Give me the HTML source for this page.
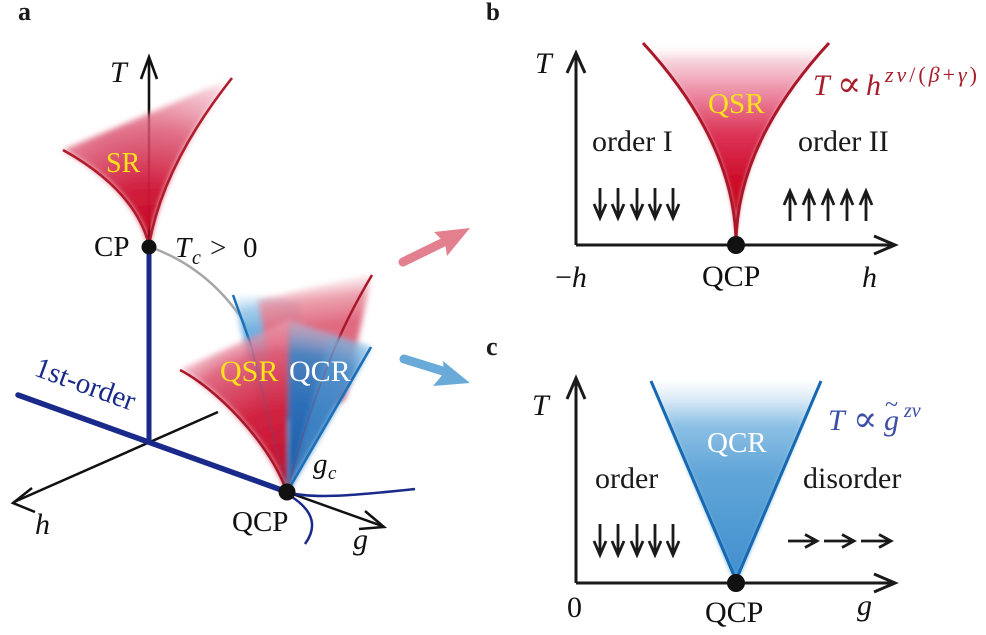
<!DOCTYPE html>
<html><head><meta charset="utf-8">
<style>
html,body{margin:0;padding:0;background:#fff;}
svg{display:block;}
text{font-family:"Liberation Serif","DejaVu Serif",serif;}
</style></head>
<body>
<svg width="986" height="635" viewBox="0 0 986 635" xmlns="http://www.w3.org/2000/svg">
<defs>
  <filter id="b2" x="-30%" y="-30%" width="160%" height="160%"><feGaussianBlur stdDeviation="2"/></filter>
  <filter id="b3" x="-30%" y="-30%" width="160%" height="160%"><feGaussianBlur stdDeviation="3"/></filter>
  <filter id="b5" x="-30%" y="-30%" width="160%" height="160%"><feGaussianBlur stdDeviation="5"/></filter>

  <radialGradient id="gSR" gradientUnits="userSpaceOnUse" cx="149" cy="245" r="195">
    <stop offset="0" stop-color="#c2001c"/>
    <stop offset="0.3" stop-color="#cf1a3a" stop-opacity="0.97"/>
    <stop offset="0.6" stop-color="#dc5a76" stop-opacity="0.85"/>
    <stop offset="0.85" stop-color="#eea4b6" stop-opacity="0.55"/>
    <stop offset="1" stop-color="#ffffff" stop-opacity="0"/>
  </radialGradient>

  <radialGradient id="gFR" gradientUnits="userSpaceOnUse" cx="287" cy="492" r="185">
    <stop offset="0" stop-color="#c40a28"/>
    <stop offset="0.45" stop-color="#d02442"/>
    <stop offset="0.75" stop-color="#dc5a76" stop-opacity="0.9"/>
    <stop offset="0.9" stop-color="#eeaabb" stop-opacity="0.55"/>
    <stop offset="1" stop-color="#ffffff" stop-opacity="0"/>
  </radialGradient>
  <radialGradient id="gFB" gradientUnits="userSpaceOnUse" cx="287" cy="492" r="185">
    <stop offset="0" stop-color="#1d58a4"/>
    <stop offset="0.45" stop-color="#2a6cb6"/>
    <stop offset="0.75" stop-color="#3f84c4" stop-opacity="0.92"/>
    <stop offset="0.9" stop-color="#a4c8e8" stop-opacity="0.55"/>
    <stop offset="1" stop-color="#ffffff" stop-opacity="0"/>
  </radialGradient>
  <linearGradient id="gBB" gradientUnits="userSpaceOnUse" x1="262" y1="290" x2="268" y2="330">
    <stop offset="0" stop-color="#a8d0ee" stop-opacity="0"/>
    <stop offset="0.45" stop-color="#8cc0e6" stop-opacity="0.8"/>
    <stop offset="1" stop-color="#6eaee0" stop-opacity="1"/>
  </linearGradient>
  <linearGradient id="gBP" gradientUnits="userSpaceOnUse" x1="318" y1="278" x2="324" y2="325">
    <stop offset="0" stop-color="#f2b8c4" stop-opacity="0.1"/>
    <stop offset="0.45" stop-color="#e8909f" stop-opacity="0.85"/>
    <stop offset="1" stop-color="#e06a80" stop-opacity="1"/>
  </linearGradient>

  <linearGradient id="gQSR" gradientUnits="userSpaceOnUse" x1="0" y1="43" x2="0" y2="245">
    <stop offset="0" stop-color="#ffffff" stop-opacity="0"/>
    <stop offset="0.08" stop-color="#f8d8e0"/>
    <stop offset="0.25" stop-color="#ec8aa2"/>
    <stop offset="0.45" stop-color="#dc3456"/>
    <stop offset="0.7" stop-color="#cc0a26"/>
    <stop offset="1" stop-color="#c4001e"/>
  </linearGradient>
  <linearGradient id="gQCR" gradientUnits="userSpaceOnUse" x1="0" y1="381" x2="0" y2="583">
    <stop offset="0" stop-color="#ffffff"/>
    <stop offset="0.1" stop-color="#d6e8f6"/>
    <stop offset="0.22" stop-color="#8cc0e4"/>
    <stop offset="0.45" stop-color="#62a6d8"/>
    <stop offset="1" stop-color="#3e8ece"/>
  </linearGradient>
</defs>

<!-- ================= PANEL A ================= -->
<text x="18" y="20" font-size="26" font-weight="bold" fill="#1a1a1a">a</text>

<!-- T axis -->
<path d="M149,245 L149,60" stroke="#111" stroke-width="2.6" fill="none"/>
<path d="M141,79 L149,57 L157,79" stroke="#111" stroke-width="2.6" fill="none"/>
<text x="110" y="82" font-size="30" font-style="italic" fill="#111">T</text>

<!-- SR fill -->
<path d="M149,245 Q135,190 63,150 L232,78 Q163,165 149,245 Z" fill="url(#gSR)" filter="url(#b3)"/>
<path d="M63,150 Q135,190 149,245" stroke="#b01c2c" stroke-width="2.6" fill="none"/>
<path d="M149,245 Q163,165 232,78" stroke="#b01c2c" stroke-width="2.6" fill="none"/>
<text x="106" y="172" font-size="28" fill="#ffe21a">SR</text>

<!-- grey curve -->
<path d="M150,247 Q215,270 252,335" stroke="#a6a6a6" stroke-width="2.5" fill="none"/>

<!-- back fans -->
<path d="M233,293 L300,303 L300,420 L262,420 Z" fill="url(#gBB)" filter="url(#b3)"/>
<path d="M258,300 L372,274 L345,400 L280,420 Z" fill="url(#gBP)" filter="url(#b3)"/>
<path d="M233,295 L251,345" stroke="#1a70b8" stroke-width="2.5" fill="none"/>
<path d="M372,275 Q350,312 336,345" stroke="#a8182a" stroke-width="2.5" fill="none"/>

<!-- front fans -->
<path d="M287,492 C268,440 215,388 180,370 L289,320 L289,492 Z" fill="url(#gFR)" filter="url(#b3)"/>
<path d="M289,320 L371,347 L287,492 Z" fill="url(#gFB)" filter="url(#b3)"/>
<path d="M287,492 L330,336 L371,347 Z" fill="#64aee0" opacity="0.35" filter="url(#b3)"/>
<!-- faint internal lines -->
<path d="M251,345 L287,492" stroke="#1a70b8" stroke-width="1.5" opacity="0.25" fill="none"/>
<path d="M336,345 Q305,420 287,492" stroke="#a8182a" stroke-width="1.5" opacity="0.25" fill="none"/>

<path d="M180,370 C215,388 268,440 287,492" stroke="#a8182a" stroke-width="2.6" fill="none"/>
<path d="M371,347 L287,492" stroke="#1a70b8" stroke-width="2.6" fill="none"/>

<text x="220" y="381" font-size="30" fill="#ffe21a">QSR</text>
<text x="289" y="381" font-size="30" fill="#ffffff">QCR</text>

<!-- axes h and g -->
<path d="M218,412 L14,502" stroke="#111" stroke-width="2.5" fill="none"/>
<path d="M32,488 L13,503 L35,512" stroke="#111" stroke-width="2.5" fill="none"/>
<path d="M287,492 L382,526" stroke="#111" stroke-width="2.5" fill="none"/>
<path d="M365,511 L384,527 L359,529" stroke="#111" stroke-width="2.5" fill="none"/>

<!-- navy lines -->
<path d="M149,247 L149,443" stroke="#1a2a8a" stroke-width="5" fill="none"/>
<path d="M18,395 L287,492" stroke="#1a2a8a" stroke-width="5.5" fill="none" stroke-linecap="round"/>
<path d="M287,492 C310,499 350,496 415,489" stroke="#1a2a8a" stroke-width="2.5" fill="none"/>
<path d="M292,497 Q324,518 305,544" stroke="#1a2a8a" stroke-width="2.5" fill="none"/>

<text transform="translate(33,375) rotate(20)" font-size="29" fill="#1a2a8a">1st-order</text>

<!-- dots -->
<circle cx="149" cy="247" r="7.5" fill="#111"/>
<circle cx="287" cy="492" r="8.5" fill="#111"/>

<text x="94" y="256" font-size="29" fill="#111">CP</text>
<text x="175" y="257" font-size="29" font-style="italic" fill="#111">T</text>
<text x="192" y="264" font-size="20" font-style="italic" fill="#111">c</text>
<text x="210" y="257" font-size="29" fill="#111">&gt;</text>
<text x="243" y="257" font-size="29" fill="#111">0</text>

<text x="313" y="473" font-size="29" font-style="italic" fill="#111">g</text>
<text x="328" y="479" font-size="19" font-style="italic" fill="#111">c</text>
<text x="232" y="531" font-size="29" fill="#111">QCP</text>
<text x="35" y="534" font-size="30" font-style="italic" fill="#111">h</text>
<text x="353" y="549" font-size="30" font-style="italic" fill="#111">g</text>

<!-- connecting arrows -->
<path d="M403,262 L448,240" stroke="#e2808f" stroke-width="9" stroke-linecap="round" fill="none"/>
<path d="M470,228 L434,232 L445,243 L447,256 Z" fill="#e2808f"/>
<path d="M404,359 L446,372" stroke="#6aaad8" stroke-width="9" stroke-linecap="round" fill="none"/>
<path d="M470,383 L443,361 L444,373 L433,386 Z" fill="#6aaad8"/>

<!-- ================= PANEL B ================= -->
<text x="486" y="20" font-size="25" font-weight="bold" fill="#1a1a1a">b</text>

<path d="M736,245 Q736,144 643,43 L829,43 Q736,144 736,245 Z" fill="url(#gQSR)" filter="url(#b2)"/>
<path d="M736,245 Q736,144 643,43" stroke="#a8182a" stroke-width="3" fill="none"/>
<path d="M736,245 Q736,144 829,43" stroke="#a8182a" stroke-width="3" fill="none"/>

<path d="M576,245 L576,56" stroke="#1a1a1a" stroke-width="3" fill="none"/>
<path d="M567,73 L576,53 L585,73" stroke="#1a1a1a" stroke-width="3" fill="none"/>
<path d="M576,245 L892,245" stroke="#1a1a1a" stroke-width="3" fill="none"/>
<path d="M874,236 L895,245 L874,254" stroke="#1a1a1a" stroke-width="3" fill="none"/>
<circle cx="736" cy="245" r="9" fill="#111"/>

<text x="535" y="73" font-size="30" font-style="italic" fill="#111">T</text>
<text x="708" y="113" font-size="29" fill="#ffe21a">QSR</text>
<text x="592" y="151" font-size="30" fill="#1a1a1a">order I</text>
<text x="798" y="151" font-size="30" fill="#1a1a1a">order II</text>

<text x="813" y="95" font-size="30" font-style="italic" fill="#a61e2c">T</text>
<text x="837" y="96" font-size="36" fill="#a61e2c">∝</text>
<text x="866" y="95" font-size="30" font-style="italic" fill="#a61e2c">h</text>
<text x="885" y="82" font-size="22" fill="#a61e2c" textLength="92" lengthAdjust="spacing"><tspan font-style="italic">zν</tspan>/(<tspan font-style="italic">β</tspan>+<tspan font-style="italic">γ</tspan>)</text>

<g stroke="#1a1a1a" stroke-width="2.8" fill="none">
  <path d="M600,188 L600,216 M594,204 L600,218 L606,204"/>
  <path d="M618,188 L618,216 M612,204 L618,218 L624,204"/>
  <path d="M637,188 L637,216 M631,204 L637,218 L643,204"/>
  <path d="M655,188 L655,216 M649,204 L655,218 L661,204"/>
  <path d="M673,188 L673,216 M667,204 L673,218 L679,204"/>

  <path d="M790,221 L790,193 M784,205 L790,191 L796,205"/>
  <path d="M809,221 L809,193 M803,205 L809,191 L815,205"/>
  <path d="M828,221 L828,193 M822,205 L828,191 L834,205"/>
  <path d="M847,221 L847,193 M841,205 L847,191 L853,205"/>
  <path d="M866,221 L866,193 M860,205 L866,191 L872,205"/>
</g>

<text x="555" y="287" font-size="30" fill="#111">−<tspan font-style="italic">h</tspan></text>
<text x="702" y="286" font-size="30" fill="#111">QCP</text>
<text x="862" y="287" font-size="30" font-style="italic" fill="#111">h</text>

<!-- ================= PANEL C ================= -->
<text x="486" y="355" font-size="26" font-weight="bold" fill="#1a1a1a">c</text>

<path d="M651,381 L821,381 L736,583 Z" fill="url(#gQCR)" filter="url(#b2)"/>
<path d="M651,381 L736,580" stroke="#1668b0" stroke-width="3" fill="none"/>
<path d="M821,381 L736,580" stroke="#1668b0" stroke-width="3" fill="none"/>

<path d="M576,583 L576,381" stroke="#1a1a1a" stroke-width="3" fill="none"/>
<path d="M567,399 L576,378 L585,399" stroke="#1a1a1a" stroke-width="3" fill="none"/>
<path d="M576,583 L892,583" stroke="#1a1a1a" stroke-width="3" fill="none"/>
<path d="M874,574 L895,583 L874,592" stroke="#1a1a1a" stroke-width="3" fill="none"/>
<circle cx="736" cy="583" r="9" fill="#111"/>

<text x="532" y="415" font-size="30" font-style="italic" fill="#111">T</text>
<text x="707" y="452" font-size="29" fill="#ffffff">QCR</text>
<text x="595" y="488" font-size="30" fill="#1a1a1a">order</text>
<text x="803" y="488" font-size="30" fill="#1a1a1a">disorder</text>

<text x="828" y="430" font-size="30" font-style="italic" fill="#3d4ea6">T</text>
<text x="853" y="431" font-size="36" fill="#3d4ea6">∝</text>
<text x="884" y="430" font-size="30" font-style="italic" fill="#3d4ea6">g</text>
<text x="885" y="412" font-size="24" fill="#3d4ea6">~</text>
<text x="904" y="417" font-size="20" font-style="italic" fill="#3d4ea6">zν</text>

<g stroke="#1a1a1a" stroke-width="2.8" fill="none">
  <path d="M600,524 L600,553 M594,541 L600,555 L606,541"/>
  <path d="M618,524 L618,553 M612,541 L618,555 L624,541"/>
  <path d="M637,524 L637,553 M631,541 L637,555 L643,541"/>
  <path d="M655,524 L655,553 M649,541 L655,555 L661,541"/>
  <path d="M673,524 L673,553 M667,541 L673,555 L679,541"/>

  <path d="M788,541 L815,541 M805,534.5 L817,541 L805,547.5"/>
  <path d="M824,541 L852,541 M842,534.5 L854,541 L842,547.5"/>
  <path d="M861,541 L889,541 M879,534.5 L891,541 L879,547.5"/>
</g>

<text x="567" y="617" font-size="30" fill="#111">0</text>
<text x="705" y="622" font-size="30" fill="#111">QCP</text>
<text x="857" y="615" font-size="30" font-style="italic" fill="#111">g</text>

</svg>
</body></html>
